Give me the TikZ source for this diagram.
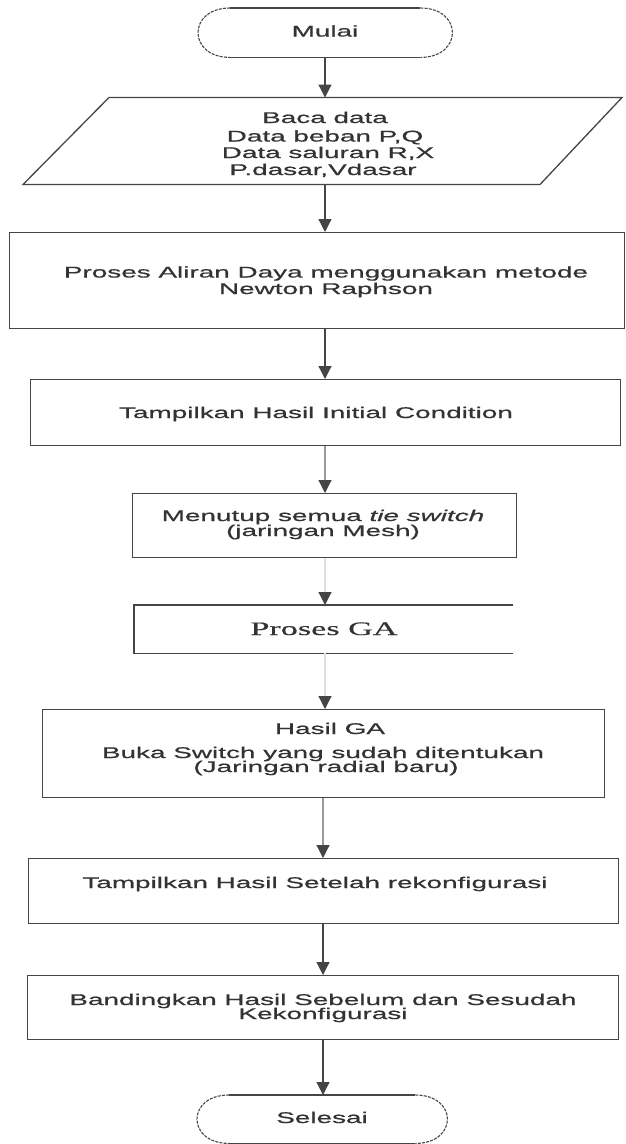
\documentclass[tikz,border=0pt]{standalone}
\usepackage{fontspec}
\usetikzlibrary{arrows.meta}
\newfontfamily\flowsans[FakeStretch=1.8,FakeBold=0.7]{Liberation Sans}
\newfontfamily\flowserif[FakeStretch=1.8,FakeBold=0.5]{Liberation Serif}
\definecolor{ink}{HTML}{333333}
\definecolor{edge}{HTML}{454545}
\begin{document}
\begin{tikzpicture}[x=1pt,y=-1pt,
  frame/.style={draw=edge, line width=1.4pt, inner sep=0pt, anchor=north west},
  blank/.style={inner sep=0pt, anchor=north west},
  txt/.style={font=\flowsans\fontsize{15.5}{17}\selectfont, text=ink, anchor=base, inner sep=0pt},
  serif/.style={font=\flowserif\fontsize{19}{21}\selectfont, text=ink, anchor=base, inner sep=0pt},
  outline/.style={draw=edge, line width=1.3pt},
  curve/.style={draw=edge, line width=1.1pt, dash pattern=on 3pt off 1.2pt},
  arr/.style={draw=edge, line width=1.2pt, -{Triangle[width=13pt,length=13pt,color=edge]}},
  arrlight/.style={arr, draw=black!40},
  arrghost/.style={arr, draw=black!12}]
\useasboundingbox[fill=white] (0,0) rectangle (625,1144);

% vertical axes of the connectors
\coordinate (axA) at (325,0);
\coordinate (axB) at (323,0);

% start terminal
\node[blank, minimum width=254pt, minimum height=49pt] (mulai) at (198,8) {};
\draw[outline] ([xshift=32pt]mulai.north west) -- ([xshift=-32pt]mulai.north east);
\draw[outline] ([xshift=32pt]mulai.south west) -- ([xshift=-32pt]mulai.south east);
\draw[curve] ([xshift=-32pt]mulai.north east) .. controls ([xshift=10.7pt]mulai.north east) and ([xshift=10.7pt]mulai.south east) .. ([xshift=-32pt]mulai.south east);
\draw[curve] ([xshift=32pt]mulai.north west) .. controls ([xshift=-10.7pt]mulai.north west) and ([xshift=-10.7pt]mulai.south west) .. ([xshift=32pt]mulai.south west);
\node[txt] (tmulai) at (325,36.5) {Mulai};

% input data
\coordinate (p1) at (109,97.5);
\coordinate (p2) at (622,97.5);
\coordinate (p3) at (540,184.5);
\coordinate (p4) at (23,184.5);
\draw[outline] (p1) -- (p2) -- (p3) -- (p4) -- cycle;
\node[blank, minimum width=431pt, minimum height=87pt] (baca) at (109,97.5) {};
\node[txt] (tb1) at (325,123) {Baca data};
\node[txt] (tb2) at (325,141.5) {Data beban P,Q};
\node[txt] (tb3) at (328,158) {Data saluran R,X};
\node[txt] (tb4) at (323,175) {P.dasar,Vdasar};

% power flow
\node[frame, minimum width=615pt, minimum height=96pt] (aliran) at (9,232) {};
\node[txt] (ta1) at (326,277.5) {Proses Aliran Daya menggunakan metode};
\node[txt] (ta2) at (326,294) {Newton Raphson};

% initial condition
\node[frame, minimum width=590pt, minimum height=66pt] (awal) at (30,379) {};
\node[txt] (tw1) at (316,418) {Tampilkan Hasil Initial Condition};

% close tie switches
\node[frame, minimum width=384pt, minimum height=64pt] (mesh) at (132,493) {};
\node[txt] (tm1) at (323,521) {Menutup semua \textit{tie switch}};
\node[txt] (tm2) at (323,536) {(jaringan Mesh)};

% GA process (open on the right)
\node[blank, minimum width=379pt, minimum height=48pt] (ga) at (134,605) {};
\draw[outline] (ga.north east) -- (ga.north west) -- (ga.south west) -- (ga.south east);
\node[serif] (tg1) at (324,635) {Proses GA};

% GA result
\node[frame, minimum width=562pt, minimum height=88pt] (hasil) at (42,709) {};
\node[txt] (th1) at (330,734) {Hasil GA};
\node[txt] (th2) at (323,758) {Buka Switch yang sudah ditentukan};
\node[txt] (th3) at (326,772) {(Jaringan radial baru)};

% after reconfiguration
\node[frame, minimum width=590pt, minimum height=65pt] (setelah) at (28,858) {};
\node[txt] (ts1) at (315,888) {Tampilkan Hasil Setelah rekonfigurasi};

% comparison
\node[frame, minimum width=591pt, minimum height=64pt] (banding) at (27,975) {};
\node[txt] (tc1) at (323,1005) {Bandingkan Hasil Sebelum dan Sesudah};
\node[txt] (tc2) at (323,1019) {Kekonfigurasi};

% end terminal
\node[blank, minimum width=250pt, minimum height=48pt] (selesai) at (197,1095) {};
\draw[outline] ([xshift=32pt]selesai.north west) -- ([xshift=-32pt]selesai.north east);
\draw[outline] ([xshift=32pt]selesai.south west) -- ([xshift=-32pt]selesai.south east);
\draw[curve] ([xshift=-32pt]selesai.north east) .. controls ([xshift=10.7pt]selesai.north east) and ([xshift=10.7pt]selesai.south east) .. ([xshift=-32pt]selesai.south east);
\draw[curve] ([xshift=32pt]selesai.north west) .. controls ([xshift=-10.7pt]selesai.north west) and ([xshift=-10.7pt]selesai.south west) .. ([xshift=32pt]selesai.south west);
\node[txt] (tselesai) at (322,1123) {Selesai};

% connectors
\draw[arr] (mulai.south -| axA) -- (baca.north -| axA);
\draw[arr] (baca.south -| axA) -- (aliran.north -| axA);
\draw[arr] (aliran.south -| axA) -- (awal.north -| axA);
\draw[arrlight] (awal.south -| axA) -- (mesh.north -| axA);
\draw[arrghost] (mesh.south -| axA) -- (ga.north -| axA);
\draw[arrghost] (ga.south -| axA) -- (hasil.north -| axA);
\draw[arrlight] (hasil.south -| axB) -- (setelah.north -| axB);
\draw[arr] (setelah.south -| axB) -- (banding.north -| axB);
\draw[arr] (banding.south -| axB) -- (selesai.north -| axB);
\end{tikzpicture}
\end{document}
